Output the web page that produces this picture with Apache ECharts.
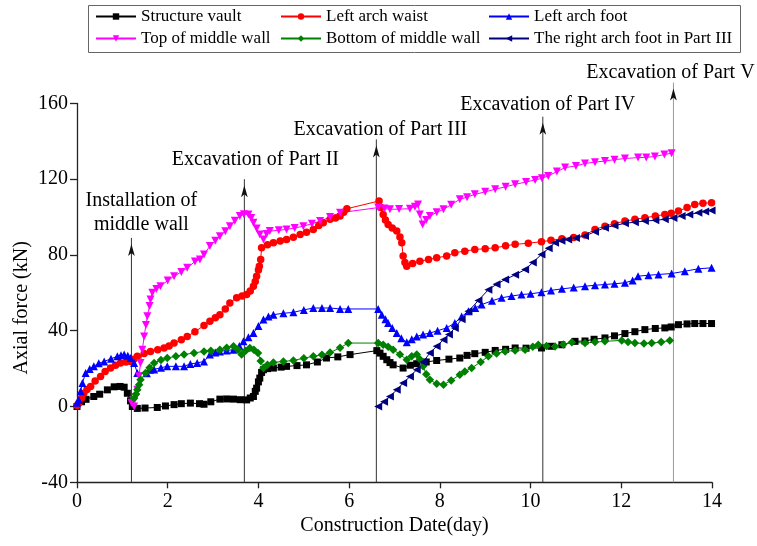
<!DOCTYPE html>
<html><head><meta charset="utf-8">
<script src="https://cdn.jsdelivr.net/npm/echarts/dist/echarts.min.js"></script>
<style>html,body{margin:0;padding:0;background:#fff}#c{width:757px;height:546px}</style>
</head><body><div id="c"></div>
<script>
// ---------- data ----------
const seriesNames = ['Structure vault', 'Left arch waist', 'Left arch foot', 'Top of middle wall', 'Bottom of middle wall', 'The right arch foot in Part III'];
const xTicks = [0, 2, 4, 6, 8, 10, 12, 14];
const yTicks = [-40, 0, 40, 80, 120, 160];

const vaultData = [[0,0],[0.1,2.5],[0.2,3.8],[0.37,5.3],[0.5,6.5],[0.67,8.8],[0.82,10.4],[0.95,10.6],[1.04,10.2],[1.11,7],[1.18,3],[1.22,0],[1.33,-1],[1.5,-0.8],[1.77,-0.5],[1.95,0.3],[2.14,1],[2.3,1.5],[2.5,1.8],[2.7,1.5],[2.8,1.2],[2.95,2.5],[3.15,3.9],[3.3,4],[3.45,3.9],[3.6,3.6],[3.74,3.5],[3.82,4.5],[3.89,5.3],[3.93,8],[3.96,9.7],[4.0,13],[4.03,15],[4.07,18],[4.11,19.4],[4.2,20],[4.33,20.3],[4.5,20.8],[4.62,21.2],[4.85,21.6],[5.06,22],[5.3,23.5],[5.5,25.6],[5.75,26.2],[6.02,27.4],[6.61,29.5],[6.68,28.2],[6.75,26.5],[6.83,24.7],[6.9,23.2],[6.97,22],[7.19,20.3],[7.35,21.8],[7.49,22.6],[7.7,23.5],[7.93,24.3],[8.2,25],[8.44,25.6],[8.6,27],[8.77,27.9],[9.0,28.6],[9.22,29.6],[9.45,30.2],[9.66,30.9],[9.9,30.8],[10.24,30.9],[10.45,31.8],[10.69,32.6],[10.98,34.4],[11.2,34.6],[11.4,35.5],[11.64,36.2],[11.85,37.3],[12.08,38.5],[12.3,39.5],[12.52,40.6],[12.75,41.2],[12.96,41.5],[13.1,42],[13.26,43.2],[13.45,43.6],[13.62,43.8],[13.8,43.8],[13.99,43.8]];

const waistData = [[0,0.5],[0.04,1.8],[0.1,4.5],[0.15,7],[0.22,9],[0.3,10.6],[0.4,13.5],[0.52,15.9],[0.62,18.5],[0.74,20.3],[0.85,21.8],[0.96,23],[1.08,23.5],[1.18,23.8],[1.25,25],[1.33,26.5],[1.48,28],[1.62,29.1],[1.78,30],[1.92,30.9],[2.03,32],[2.14,33.5],[2.3,35.3],[2.43,37],[2.6,39.5],[2.8,42.7],[2.93,45],[3.05,46.8],[3.15,48.5],[3.27,51.5],[3.37,54.7],[3.52,57.4],[3.64,58.3],[3.74,59.1],[3.82,61],[3.89,63.5],[3.93,66],[3.96,68.8],[4.0,72],[4.02,74],[4.05,77.6],[4.07,83.8],[4.2,85.4],[4.33,86.5],[4.48,87.4],[4.62,88.2],[4.77,89.4],[4.92,90.8],[5.06,92],[5.21,93.5],[5.33,95.5],[5.43,97],[5.58,98.8],[5.7,99.5],[5.8,100.5],[5.88,102.5],[5.95,104.4],[6.66,108.5],[6.7,105],[6.75,101.4],[6.8,98.5],[6.86,96.1],[6.95,94.2],[7.05,92.6],[7.12,89.5],[7.16,86.5],[7.19,79.4],[7.23,76],[7.27,74],[7.4,75.5],[7.56,76.7],[7.75,77.6],[7.93,78.5],[8.15,79.5],[8.33,81.2],[8.55,82],[8.77,82.9],[9.0,83.3],[9.22,83.8],[9.45,84.8],[9.66,85.6],[9.95,86.2],[10.24,87],[10.45,87.7],[10.69,88.6],[10.95,89.2],[11.2,90.5],[11.42,93.5],[11.64,95.2],[11.85,96.5],[12.08,97.9],[12.3,98.8],[12.52,99.7],[12.75,100.5],[12.96,101.4],[13.1,102],[13.26,103.2],[13.45,105],[13.62,106.7],[13.8,107.3],[13.99,107.6]];

const footData = [[0,2],[0.04,3.5],[0.08,8],[0.12,12.4],[0.19,17.7],[0.28,19.8],[0.37,21.2],[0.48,22.8],[0.6,23.8],[0.75,25.2],[0.89,26.5],[0.97,27],[1.04,27.4],[1.12,26.8],[1.18,25.6],[1.26,23],[1.33,17.7],[1.54,17.6],[1.61,19.4],[1.7,19.6],[1.85,20.5],[1.99,21.2],[2.18,21.2],[2.36,21.2],[2.5,22.5],[2.65,23],[2.8,23.8],[2.93,27.4],[3.05,28.5],[3.15,29.1],[3.3,29.6],[3.45,30],[3.58,32],[3.67,34.4],[3.78,36.5],[3.89,38.8],[4.0,42.5],[4.11,45.9],[4.22,47.5],[4.33,48.5],[4.55,49.2],[4.77,49.7],[5.0,51],[5.21,52],[5.4,52],[5.58,52],[5.8,51.5],[5.98,51.5],[6.64,51.5],[6.72,48.5],[6.8,46],[6.86,44.1],[6.95,41.5],[7.05,38.8],[7.15,36],[7.27,33.9],[7.38,35.5],[7.49,37],[7.63,38],[7.78,38.8],[7.95,40],[8.15,41.5],[8.33,44.1],[8.48,47.5],[8.63,50.3],[8.78,52],[8.92,53.8],[9.15,55.8],[9.36,57.4],[9.58,58.3],[9.8,59.1],[10.0,59.5],[10.24,60.3],[10.45,61.3],[10.69,62.1],[10.95,62.8],[11.2,63.5],[11.42,64],[11.64,64.4],[11.85,64.8],[12.08,65.3],[12.25,66.5],[12.37,68.8],[12.6,69.3],[12.82,69.7],[13.11,70.2],[13.4,71.4],[13.7,72.7],[13.99,73.2]];

const topWallData = [[1.2,2],[1.26,0],[1.3,5],[1.33,8.8],[1.37,16],[1.4,23],[1.44,30],[1.48,37],[1.52,43],[1.55,47.6],[1.6,53],[1.62,56.5],[1.66,60],[1.75,62],[1.84,63.5],[2.0,66.5],[2.14,68.8],[2.3,71],[2.43,73.2],[2.6,76.5],[2.71,77.6],[2.8,80.3],[2.93,84.7],[3.05,87.5],[3.15,89.9],[3.27,92.5],[3.37,95.2],[3.48,98],[3.59,100.5],[3.68,101.5],[3.78,101.4],[3.84,99.5],[3.89,97],[3.96,94],[4.03,90.8],[4.11,88.2],[4.18,91],[4.25,92.6],[4.45,93],[4.62,93.5],[4.8,94.2],[4.99,95.2],[5.18,96.5],[5.36,97.9],[5.58,100],[5.8,102.3],[6.64,105],[6.78,104.5],[6.9,104.1],[7.1,104.2],[7.34,104.4],[7.45,105.5],[7.52,106.7],[7.56,101.4],[7.62,96.1],[7.7,98.5],[7.78,100.5],[7.93,102.5],[8.08,104.1],[8.25,106.5],[8.44,109.4],[8.6,110.5],[8.77,112],[9.0,113.3],[9.22,114.7],[9.45,116],[9.66,117.3],[9.9,118.5],[10.1,119.6],[10.25,120.5],[10.39,121.7],[10.58,124],[10.76,126.1],[11.0,127],[11.2,128.3],[11.42,129],[11.64,129.6],[11.85,130.3],[12.08,130.9],[12.37,131.4],[12.55,131.5],[12.74,132],[12.95,133],[13.11,133.7]];

const bottomWallData = [[1.26,4.4],[1.3,6.5],[1.33,8.8],[1.37,11.5],[1.4,14.1],[1.51,17.7],[1.6,20.5],[1.7,23],[1.85,24.5],[1.99,25.6],[2.18,26.5],[2.36,27.4],[2.58,28.3],[2.8,29.1],[2.95,29.5],[3.15,30],[3.3,31],[3.45,31.8],[3.55,30],[3.63,27.4],[3.72,29.5],[3.81,30.9],[3.9,30],[3.99,28.3],[4.05,24],[4.11,20.3],[4.2,22],[4.33,23.3],[4.55,23.8],[4.77,24.3],[5.0,25.5],[5.21,26.5],[5.4,27.3],[5.58,28.5],[5.8,31],[5.98,33.5],[6.64,33.5],[6.75,32.6],[6.86,31.5],[6.97,30],[7.12,27.5],[7.27,24.7],[7.38,26.5],[7.49,27.4],[7.56,25],[7.63,21.2],[7.7,17],[7.78,14.1],[7.93,12],[8.08,11.5],[8.25,13.8],[8.44,16.8],[8.55,18.5],[8.7,20.3],[8.9,23.5],[9.07,26.5],[9.25,28],[9.44,29.1],[9.66,29.6],[9.88,30],[10.05,31.5],[10.17,32.6],[10.35,32],[10.54,31.7],[10.72,32.8],[10.91,33.9],[11.2,33.5],[11.42,34],[11.64,34.4],[12.01,34.9],[12.15,34],[12.3,33.5],[12.5,33.3],[12.67,33.5],[12.88,34],[13.07,34.9]];

const rightFootData = [[6.64,0],[6.77,2.5],[6.9,5.3],[7.05,8.8],[7.19,12.4],[7.34,15.8],[7.49,19.4],[7.63,23.5],[7.78,28.3],[7.93,31.8],[8.08,35.3],[8.2,38],[8.33,41.5],[8.48,46],[8.63,50.3],[8.85,56],[9.07,61.7],[9.25,64.5],[9.44,67],[9.66,69.5],[9.88,72.3],[10.05,76],[10.24,80.3],[10.4,83.5],[10.54,86.5],[10.68,87.5],[10.83,88.2],[11.0,89],[11.2,90],[11.42,92.3],[11.64,94.4],[11.85,95.5],[12.08,96.7],[12.3,97.3],[12.52,97.9],[12.75,98.3],[12.96,98.8],[13.15,99.5],[13.33,100.5],[13.5,101.3],[13.7,102.3],[13.85,103],[13.99,103.5]];

const eventDays = [1.2, 3.69, 6.6, 10.27, 13.15];
const eventTops = [89, 120, 141, 153, 171];
const eventLabels = ['Installation of\nmiddle wall', 'Excavation of Part II', 'Excavation of Part III', 'Excavation of Part IV', 'Excavation of Part V'];

// ---------- styling ----------
const FONT = '"Liberation Serif", "Times New Roman", serif';
const colors = ['#000000', '#ff0000', '#0000ff', '#ff00ff', '#008000', '#000080'];
const symbols = ['rect', 'circle', 'triangle', 'triangle', 'diamond', 'triangle'];
const rotations = [0, 0, 0, 180, 0, 90];
const sizes = [7, 7.5, 8, 8, 8.5, 8];
const allData = [vaultData, waistData, footData, topWallData, bottomWallData, rightFootData];
const labelDist = [7, 13, 4, 6, 4];
const labelOffX = [10, 11, 4, 5, -3];
const lineColors = ['#333', '#333', '#333', '#333', '#999'];

const series = [];
eventDays.forEach((d, i) => {
  series.push({
    type: 'line', name: 'ev' + i, clip: false, silent: true, z: 1,
    showSymbol: true, showAllSymbol: true,
    lineStyle: { color: lineColors[i], width: 1 },
    itemStyle: { color: lineColors[i] },
    data: [
      { value: [d, -40], symbol: 'none' },
      { value: [d, eventTops[i]], symbol: 'arrow', symbolSize: [5, 12], symbolOffset: [0, '50%'],
        itemStyle: { color: '#111' },
        label: { show: true, position: 'top', distance: labelDist[i], offset: [labelOffX[i], 0],
          formatter: eventLabels[i], fontFamily: FONT, fontSize: 20, color: '#000', lineHeight: 24, align: 'center' } }
    ]
  });
});
seriesNames.forEach((n, i) => {
  series.push({
    type: 'line', name: n, z: 3,
    symbol: symbols[i], symbolSize: sizes[i], symbolRotate: rotations[i],
    showAllSymbol: true,
    lineStyle: { color: colors[i], width: 1 },
    itemStyle: { color: colors[i] },
    data: allData[i]
  });
});

const legendPos = [[95, 8], [280, 8], [488, 8], [95, 30], [280, 30], [488, 30]];
const legends = seriesNames.map((n, i) => ({
  data: [n], left: legendPos[i][0], top: legendPos[i][1], padding: 0,
  itemWidth: 40, itemHeight: 8, selectedMode: false,
  textStyle: { fontFamily: FONT, fontSize: 17, color: '#000', padding: [0, 0, 0, 0] }
}));

const chart = echarts.init(document.getElementById('c'), null, { renderer: 'canvas' });
chart.setOption({
  animation: false,
  backgroundColor: '#fff',
  textStyle: { fontFamily: FONT },
  graphic: [{ type: 'rect', left: 86, top: 3, shape: { width: 652, height: 47 }, style: { fill: 'none', stroke: '#666', lineWidth: 1 }, z: 0 }],
  legend: legends,
  grid: { left: 77, right: 45, top: 103.4, bottom: 63.7, containLabel: false },
  xAxis: {
    type: 'value', min: xTicks[0], max: xTicks[xTicks.length - 1], interval: 2,
    name: 'Construction Date(day)', nameLocation: 'middle', nameGap: 32,
    nameTextStyle: { fontFamily: FONT, fontSize: 20, color: '#000' },
    axisLine: { onZero: false, lineStyle: { color: '#222', width: 1.3 } },
    axisTick: { length: 6, lineStyle: { color: '#222', width: 1.3 } },
    axisLabel: { fontFamily: FONT, fontSize: 20, color: '#000', margin: 9 },
    splitLine: { show: false }
  },
  yAxis: {
    type: 'value', min: yTicks[0], max: yTicks[yTicks.length - 1], interval: 40,
    name: 'Axial force (kN)', nameLocation: 'middle', nameGap: 45, nameMoveOverlap: false,
    nameTextStyle: { fontFamily: FONT, fontSize: 20, color: '#000', padding: [0, 30, 0, 0] },
    axisLine: { show: true, onZero: false, lineStyle: { color: '#222', width: 1.3 } },
    axisTick: { show: true, length: 7, lineStyle: { color: '#222', width: 1.3 } },
    axisLabel: { fontFamily: FONT, fontSize: 20, color: '#000', margin: 9 },
    splitLine: { show: false }
  },
  series: series
});
</script></body></html>
